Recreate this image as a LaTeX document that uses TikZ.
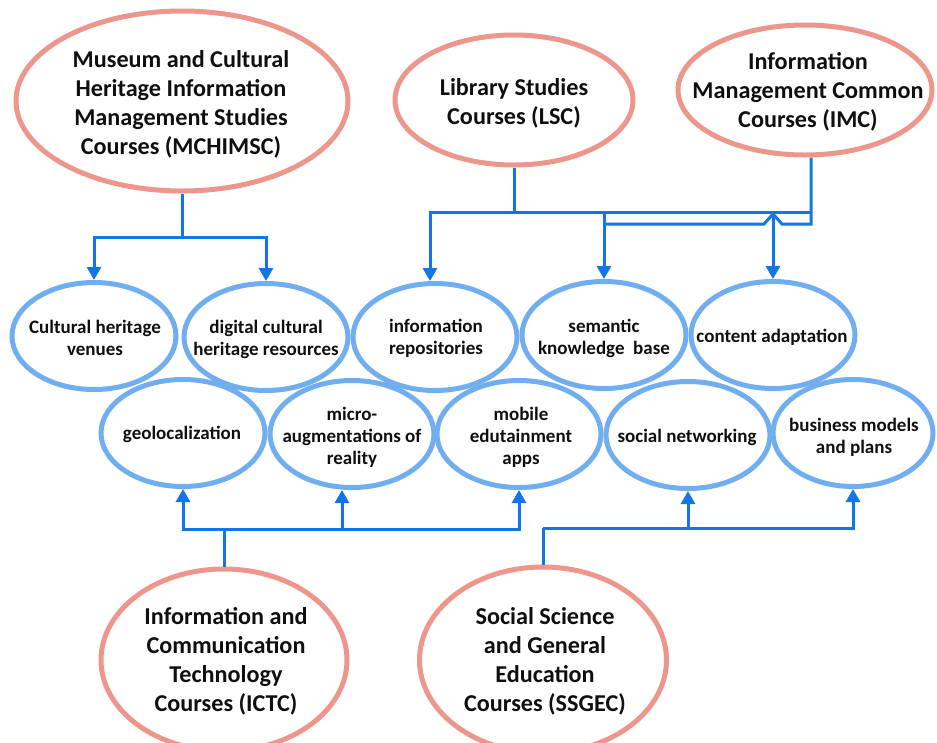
\documentclass[tikz,border=0pt]{standalone}
\usepackage{fontspec}
\setmainfont{Carlito}
\usetikzlibrary{shapes.geometric,arrows.meta,calc}
\definecolor{salmonc}{RGB}{236,150,140}
\definecolor{ellblue}{RGB}{112,174,240}
\definecolor{linkblue}{RGB}{18,118,230}
\definecolor{inkc}{RGB}{15,15,15}
\begin{document}
\begin{tikzpicture}[x=1pt,y=-1pt,
  course/.style={ellipse,draw=salmonc,line width=5pt,inner sep=0pt},
  topic/.style={ellipse,draw=ellblue,line width=5pt,inner sep=0pt,minimum width=164pt,minimum height=107pt},
  bigtxt/.style={align=center,text=inkc,inner sep=0pt,font=\fontsize{24.2}{29}\selectfont\bfseries},
  smalltxt/.style={align=center,text=inkc,inner sep=0pt,font=\fontsize{19}{22}\selectfont\bfseries},
  link/.style={draw=linkblue,line width=3pt},
  linkarrow/.style={link,-{Triangle[length=13pt,width=14pt]}}]
\useasboundingbox (0,0) rectangle (937,742);

% course ellipses
\node[course,minimum width=332pt,minimum height=180pt] (mch) at (182,101) {};
\node[bigtxt] (mch-t) at (181,104) {Museum and Cultural\\Heritage Information\\Management Studies\\Courses (MCHIMSC)};
\node[course,minimum width=238pt,minimum height=130pt] (lsc) at (514,100) {};
\node[bigtxt] (lsc-t) at (514,103) {Library Studies\\Courses (LSC)};
\node[course,minimum width=254pt,minimum height=130pt] (imc) at (805,90) {};
\node[bigtxt] (imc-t) at (808,92) {Information\\Management Common\\Courses (IMC)};
\node[course,minimum width=246pt,minimum height=182pt] (ictc) at (224,660) {};
\node[bigtxt] (ictc-t) at (226,661) {Information and\\Communication\\Technology\\Courses (ICTC)};
\node[course,minimum width=247pt,minimum height=186pt] (ssgec) at (543,660) {};
\node[bigtxt] (ssgec-t) at (545,661) {Social Science\\and General\\Education\\Courses (SSGEC)};

% topic ellipses, first row
\node[topic] (venues) at (94,336) {};
\node[smalltxt] (venues-t) at (95,338) {Cultural heritage\\venues};
\node[topic] (digital) at (266,337) {};
\node[smalltxt] (digital-t) at (266,339) {digital cultural\\heritage resources};
\node[topic] (repo) at (435,337) {};
\node[smalltxt] (repo-t) at (436,338) {information\\repositories};
\node[topic] (semantic) at (604,335) {};
\node[smalltxt] (semantic-t) at (604,338) {semantic\\knowledge\ \ base};
\node[topic] (content) at (773,335) {};
\node[smalltxt] (content-t) at (772,337) {content adaptation};

% topic ellipses, second row
\node[topic] (geo) at (183,433) {};
\node[smalltxt] (geo-t) at (182,434) {geolocalization};
\node[topic] (micro) at (352,434) {};
\node[smalltxt] (micro-t) at (352,437) {micro-\\augmentations of\\reality};
\node[topic] (mobile) at (519,434) {};
\node[smalltxt] (mobile-t) at (521,437) {mobile\\edutainment\\apps};
\node[topic] (social) at (688,435) {};
\node[smalltxt] (social-t) at (687,437) {social networking};
\node[topic,minimum width=160pt] (business) at (853,433) {};
\node[smalltxt] (business-t) at (854,437) {business models\\and plans};

% helper levels
\coordinate (y212) at (0,212);
\coordinate (y224) at (0,224);
\coordinate (y237) at (0,237);
\coordinate (y529) at (0,529);
\coordinate (y528) at (0,528);

% MCHIMSC links
\coordinate (m1) at (mch.south |- y237);
\draw[link] (mch.south) -- (m1);
\draw[linkarrow] (m1) -| (venues.north);
\draw[linkarrow] (m1) -| (digital.north);

% LSC links
\coordinate (l1) at (lsc.south |- y212);
\coordinate (imcb) at ([xshift=6pt]imc.south);
\draw[link] (lsc.south) -- (l1);
\draw[linkarrow] (l1) -| ([xshift=-5pt]repo.north);
\draw[link] (l1) -- (imcb |- l1);
\draw[linkarrow] (semantic.north |- l1) -- (semantic.north);
\draw[linkarrow] (content.north |- l1) -- (content.north);

% IMC link with hop
\coordinate (i1) at (imcb |- y224);
\draw[link] (imcb) -- (i1) -- ($(content.north |- i1)+(9,0)$) -- ($(content.north |- l1)+(0,2)$)
  -- ($(content.north |- i1)+(-9,0)$) -- (semantic.north |- i1);

% ICTC links
\coordinate (c1) at (ictc.north |- y529);
\draw[link] (ictc.north) -- (c1);
\draw[linkarrow] (c1) -| (geo.south);
\draw[linkarrow] (c1) -| ([xshift=-10pt]micro.south);
\draw[linkarrow] (c1) -| (mobile.south);

% SSGEC links
\coordinate (s1) at (ssgec.north |- y528);
\draw[link] (ssgec.north) -- (s1);
\draw[linkarrow] (s1) -| (social.south);
\draw[linkarrow] (s1) -| (business.south);
\end{tikzpicture}
\end{document}
